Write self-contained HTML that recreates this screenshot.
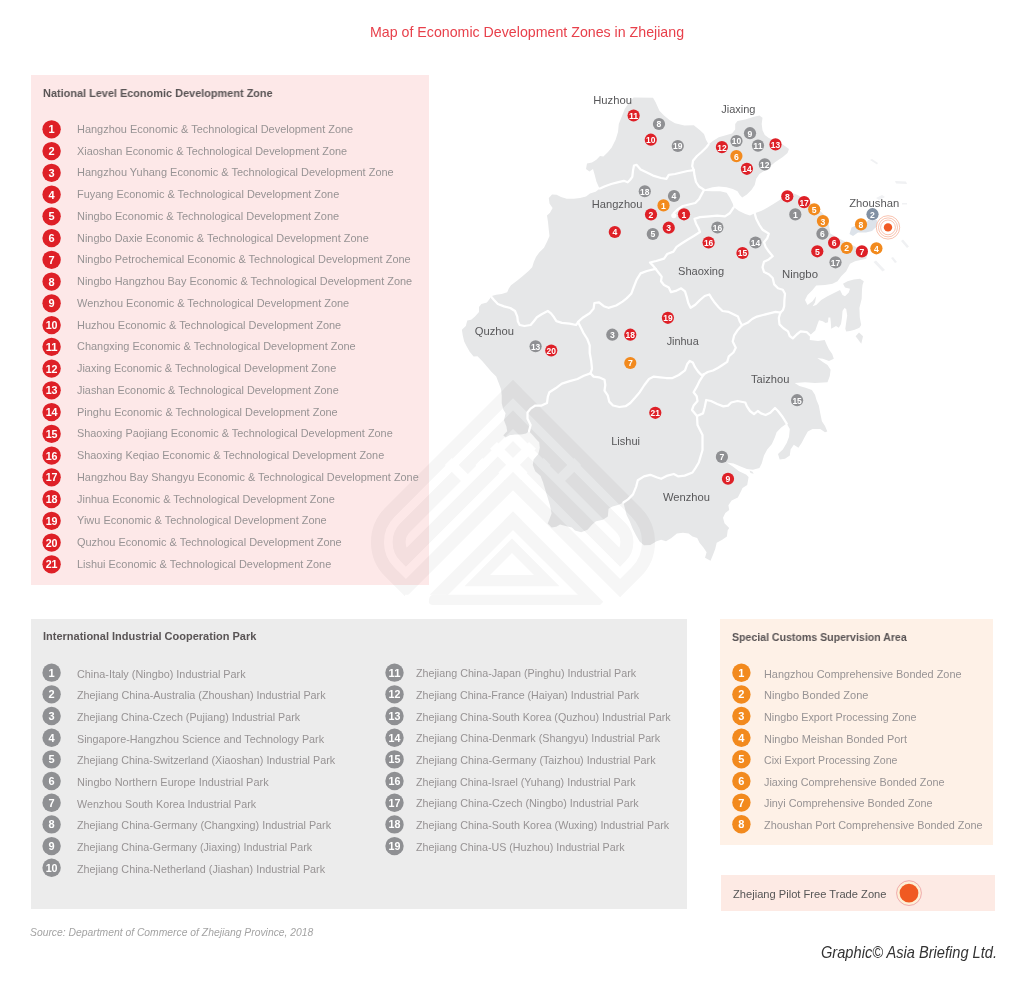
<!DOCTYPE html>
<html><head><meta charset="utf-8"><title>Map of Economic Development Zones in Zhejiang</title>
<style>
html,body{margin:0;padding:0;background:#fff}
body{-webkit-font-smoothing:antialiased;width:1024px;height:987px;position:relative;overflow:hidden;font-family:"Liberation Sans",sans-serif}
.p{position:absolute}
.c{will-change:transform;position:absolute;width:18.4px;height:18.4px;border-radius:50%;color:#fff;font-weight:bold;font-size:11px;line-height:18.4px;text-align:center;letter-spacing:-0.7px;text-indent:-0.7px}
.r{background:#de2027} .g{background:#8f9093} .o{background:#f28a1e}
.t{position:absolute;transform-origin:0 0;font-size:11px;line-height:20px;color:#979394;white-space:nowrap}
.h{will-change:transform;position:absolute;font-size:11px;font-weight:bold;color:#595455;white-space:nowrap;line-height:20px}
#map{position:absolute;left:0;top:0}
</style></head><body>
<div class="p" style="left:30.8px;top:74.7px;width:398px;height:510.8px;background:#fde8e8"></div>
<div class="p" style="left:30.8px;top:618.8px;width:656.7px;height:290.3px;background:#ececec"></div>
<div class="p" style="left:720px;top:619px;width:273px;height:225.7px;background:#fef1e7"></div>
<div class="p" style="left:721px;top:875.4px;width:274px;height:35.5px;background:#fdeae4"></div>
<svg id="map" width="1024" height="987" viewBox="0 0 1024 987" style="position:absolute;left:0;top:0;will-change:transform" font-family="Liberation Sans, sans-serif">

<path d="M633.6,97.5 L653.0,97.8 L655.5,102.0 L659.4,110.8 L664.0,115.5 L669.5,120.0 L675.0,123.3 L684.4,125.6 L693.8,125.3 L700.0,130.3 L704.0,134.0 L706.0,139.7 L708.6,144.4 L712.5,141.2 L718.8,137.3 L726.6,135.0 L732.0,133.4 L735.2,129.5 L735.2,124.0 L737.5,121.0 L745.3,119.4 L753.0,117.0 L759.4,115.5 L762.5,117.8 L761.7,124.0 L762.5,130.3 L764.8,135.0 L768.8,138.0 L775.0,140.5 L782.8,144.4 L789.0,149.0 L787.5,153.0 L782.8,156.9 L775.0,162.3 L770.3,166.2 L764.0,171.0 L759.4,174.0 L756.2,178.8 L754.7,185.0 L751.6,189.7 L746.9,194.4 L742.2,197.5 L739.8,195.0 L737.5,191.2 L732.8,189.0 L726.6,187.3 L718.8,186.6 L712.5,187.3 L706.2,189.0 L704.0,189.7 L704.5,191.0 L712.5,191.2 L720.3,191.2 L726.6,192.8 L729.7,197.5 L732.8,203.8 L733.6,207.0 L739.0,211.0 L745.3,214.0 L750.0,215.6 L754.7,213.3 L761.0,211.0 L767.2,207.8 L773.4,204.0 L779.7,200.0 L784.0,195.5 L789.7,192.0 L797.5,195.0 L807.0,200.6 L816.2,207.0 L824.0,214.7 L828.8,224.0 L830.3,233.4 L838.0,238.0 L847.5,242.8 L857.0,247.5 L866.2,250.0 L867.8,252.0 L866.2,258.8 L855.0,261.2 L850.0,263.8 L846.2,271.2 L841.2,276.2 L837.5,281.2 L832.5,283.8 L825.0,285.0 L816.2,285.6 L812.5,290.0 L807.5,295.0 L805.0,300.0 L807.5,305.0 L812.5,301.2 L816.2,296.2 L815.0,302.5 L812.5,306.2 L816.2,305.0 L821.2,300.0 L827.5,296.2 L835.0,292.5 L840.0,290.0 L842.5,295.0 L845.0,296.2 L848.8,292.5 L850.0,288.8 L845.0,287.5 L843.0,283.8 L847.5,281.2 L853.8,279.4 L860.0,278.8 L863.8,281.2 L862.5,285.0 L862.0,289.4 L861.7,298.8 L859.4,308.0 L859.8,317.5 L861.2,325.0 L859.4,327.8 L854.7,329.7 L850.0,331.0 L846.2,331.6 L845.3,328.8 L846.2,322.2 L847.2,315.6 L846.2,309.0 L844.4,308.0 L842.5,311.0 L842.0,317.5 L841.0,324.0 L838.8,327.8 L836.0,326.0 L831.2,328.8 L830.8,322.2 L830.3,317.5 L828.4,317.5 L828.0,322.2 L825.6,323.0 L822.8,321.2 L819.0,320.3 L817.2,325.0 L815.3,330.6 L810.0,335.3 L809.7,340.0 L818.0,341.0 L824.7,340.0 L826.7,344.7 L829.0,349.4 L832.2,354.0 L833.8,358.8 L829.0,361.0 L822.8,358.8 L817.3,358.0 L822.8,361.9 L827.5,365.0 L830.6,369.7 L829.8,376.0 L827.5,382.2 L815.0,383.0 L805.0,382.3 L794.7,383.0 L799.4,386.0 L805.6,387.7 L811.9,390.0 L815.0,394.7 L816.5,400.0 L818.8,405.6 L820.3,413.4 L821.9,421.2 L825.0,426.0 L827.3,431.4 L825.0,432.2 L820.3,429.0 L812.5,429.0 L807.8,431.4 L804.7,436.9 L801.6,443.0 L798.4,447.8 L793.8,444.7 L790.6,449.4 L789.8,455.6 L785.0,458.8 L779.7,459.5 L778.0,454.0 L782.8,449.4 L786.7,443.0 L789.0,436.9 L789.8,429.0 L786.7,423.6 L781.2,427.5 L776.6,432.2 L775.0,436.9 L771.9,444.0 L767.2,449.4 L764.0,455.6 L761.7,463.4 L759.4,468.0 L753.0,469.7 L746.9,469.0 L740.6,466.6 L733.6,463.4 L726.6,462.5 L732.8,466.6 L739.0,471.2 L746.0,474.4 L748.6,477.0 L747.2,485.0 L742.5,488.0 L741.0,491.2 L737.8,497.5 L731.6,500.6 L728.4,505.3 L729.2,510.0 L725.3,513.0 L723.0,517.8 L724.5,523.3 L729.2,528.0 L727.7,530.3 L726.9,536.6 L722.2,539.7 L716.7,542.8 L715.2,549.0 L712.8,555.3 L710.5,560.8 L705.0,557.7 L706.6,552.2 L703.4,547.5 L699.5,542.8 L697.2,538.0 L692.5,536.6 L688.6,533.4 L683.0,532.7 L676.9,533.4 L671.4,538.0 L666.0,541.2 L661.2,539.7 L656.6,541.2 L650.3,545.0 L644.0,545.3 L639.6,541.5 L636.0,535.3 L632.8,529.0 L629.7,521.2 L626.6,515.0 L625.0,508.8 L623.4,502.5 L618.8,504.8 L612.5,506.4 L608.6,508.8 L607.8,516.6 L603.0,519.7 L596.0,521.2 L592.2,524.4 L587.5,529.8 L581.2,532.2 L575.0,530.6 L571.9,527.5 L565.6,526.0 L560.0,524.4 L556.2,526.7 L551.6,527.5 L547.7,523.6 L549.2,519.7 L551.6,513.4 L550.0,505.6 L547.7,497.8 L545.3,490.0 L543.0,482.2 L540.6,476.0 L535.2,471.2 L532.8,465.0 L533.6,459.5 L538.3,454.0 L539.8,447.8 L539.2,442.2 L536.0,439.0 L532.2,434.4 L529.0,431.2 L526.0,433.6 L521.2,434.4 L515.0,434.4 L509.5,435.2 L505.6,437.5 L503.3,435.2 L507.2,431.2 L506.4,426.6 L504.0,420.3 L505.6,413.3 L503.3,409.4 L501.7,403.0 L501.7,395.3 L501.0,389.0 L498.6,382.8 L496.2,376.6 L491.6,371.9 L486.9,366.4 L482.2,361.0 L477.5,356.2 L473.6,356.4 L469.7,351.7 L466.6,346.2 L464.2,341.6 L462.7,335.3 L461.9,329.8 L465.8,326.0 L467.3,320.5 L471.2,319.7 L475.0,316.6 L479.0,311.9 L479.0,307.0 L481.4,304.0 L486.9,302.5 L490.0,298.6 L490.8,296.2 L496.2,294.7 L501.7,294.0 L507.2,292.3 L508.8,288.4 L511.0,285.3 L517.3,280.6 L522.8,276.0 L528.3,271.2 L532.2,267.3 L533.8,261.9 L536.0,257.0 L539.2,252.5 L544.0,247.8 L547.0,241.7 L549.5,236.0 L548.8,230.0 L548.0,222.0 L547.0,215.6 L550.0,212.8 L552.6,208.0 L549.5,203.4 L548.8,198.0 L552.0,194.5 L556.6,194.8 L561.0,197.0 L566.7,198.8 L573.8,198.8 L580.0,198.0 L586.0,196.4 L590.0,193.5 L595.6,191.7 L600.0,188.6 L598.8,187.0 L596.4,181.6 L594.8,175.3 L593.0,169.0 L589.4,171.4 L586.0,169.0 L587.0,163.6 L592.0,162.5 L596.4,159.7 L600.0,156.0 L603.4,156.6 L606.2,153.8 L608.0,152.0 L611.7,147.5 L615.6,139.7 L618.0,131.9 L618.8,124.0 L621.9,116.2 L625.0,108.4 L630.5,100.6Z" fill="#e6e7e8"/>
<g fill="#e6e7e8"><path d="M859,332.5 L863,336.3 L861.3,343.8 L855.6,336.3Z"/><path d="M749.5,470.5l3,1.2 1.2,2-3.2-.6z"/></g>
<g fill="#f0f1f3"><path d="M849.5,234 L851.5,227.5 L856,225.5 L866,224 L868,220 L873,218.5 L877.5,220.5 L876,227 L872,231 L866,232.5 L858,232.5 L853,236Z" fill="#dde3ea"/><path d="M873.5,262 l2.5,-1.5 9,9.5 -2.5,1.5z"/><path d="M891,258 l2,-1 4,5 -2,1z"/><path d="M901,241 l2,-1.5 6,7 -2,1.5z"/><path d="M895,181 l11,0.5 1,2.5 -11,-0.5z"/><path d="M870,160 l2,-1 6,4 -1,1.5z"/><path d="M876,198 l6,-3 3,2 -6,3z"/><path d="M902,203 l5,0 0,1.5 -5,0z"/></g>
<mask id="wm" maskUnits="userSpaceOnUse" x="340" y="370" width="340" height="250"><g transform="matrix(15.3,15.3,-15.3,15.3,513,380)"><path d="M0.3,0 L0.3,8.350000000000001 A1.95,1.95 0 0 0 2.25,10.3 L3.3,10.3 L3.3,3" fill="none" stroke="#fff" stroke-width="0.6" stroke-linejoin="miter"/><path d="M0,0.3 L8.350000000000001,0.3 A1.95,1.95 0 0 1 10.3,2.25 L10.3,3.3 L3,3.3" fill="none" stroke="#fff" stroke-width="0.6" stroke-linejoin="miter"/><path d="M1.3,1 L1.3,8.350000000000001 A0.95,0.95 0 0 0 2.25,9.3 L2.3,9.3 L2.3,2" fill="none" stroke="#fff" stroke-width="0.6" stroke-linejoin="miter"/><path d="M1,1.3 L8.350000000000001,1.3 A0.95,0.95 0 0 1 9.3,2.25 L9.3,2.3 L2,2.3" fill="none" stroke="#fff" stroke-width="0.6" stroke-linejoin="miter"/><rect x="4.3" y="4.3" width="0.600" height="5.900" fill="#fff"/><rect x="4.3" y="4.3" width="5.900" height="0.600" fill="#fff"/><rect x="1.5" y="2.55" width="2.000" height="0.450" fill="#000"/><rect x="2.55" y="1.5" width="0.450" height="2.000" fill="#000"/><rect x="0.55" y="4.55" width="1.350" height="0.450" fill="#000"/><rect x="4.55" y="0.55" width="0.450" height="1.350" fill="#000"/><rect x="1.55" y="3.55" width="0.450" height="0.450" fill="#000"/><rect x="3.55" y="1.55" width="0.450" height="0.450" fill="#000"/></g><rect x="340" y="605" width="340" height="20" fill="#000"/><path d="M405,594.7 L446,594.7 L436,606.3 L405,606.3Z" fill="#000"/><path d="M512,538.5 L464.5,586.3 L559.5,586.3Z M512,553 L490,575 L534,575Z" fill="#fff" fill-rule="evenodd"/><path d="M433,594.7 L590,594.7 Q600,594.7 596,600 L591,605 L433,605 Q428,605 429,600 Q429.5,595 433,594.7Z" fill="#fff"/></mask><rect x="340" y="370" width="340" height="250" fill="#000" opacity="0.036" mask="url(#wm)"/>
<g fill="none" stroke="#fff" stroke-width="2.25" stroke-linejoin="round" stroke-linecap="round">
<path d="M600.0,188.6 L605.0,186.2 L611.2,184.0 L617.5,182.3 L623.8,180.8 L627.7,182.3 L630.0,180.0 L632.3,176.9 L633.0,170.6 L634.0,165.5 L636.5,164.8 L640.6,169.4 L646.9,172.5 L653.0,175.6 L661.0,178.0 L666.4,178.8 L668.8,174.8 L675.0,174.0 L681.2,172.5 L687.5,171.0 L693.8,170.2"/>
<path d="M708.6,144.4 L706.2,147.5 L701.6,152.0 L697.0,156.0 L693.0,160.8 L692.2,166.2 L693.8,170.2"/>
<path d="M693.8,170.2 L694.5,175.6 L696.0,182.0 L699.0,186.5 L704.0,189.7"/>
<path d="M704.0,190.0 L701.6,194.4 L699.2,199.0 L695.3,203.0 L689.0,204.5 L682.8,206.0 L678.0,209.2 L673.8,213.0"/>
<path d="M733.6,207.5 L729.7,213.3 L725.0,216.4 L717.2,215.6 L709.4,216.4 L700.0,217.2 L694.5,218.8 L696.0,223.4 L698.4,228.0 L700.0,232.0 L693.8,236.0 L687.5,239.8 L681.2,243.8 L676.6,246.9 L673.4,251.6 L667.2,254.0 L664.0,258.6 L656.2,261.0 L650.0,262.5 L653.0,265.6 L655.5,268.8"/>
<path d="M655.5,268.8 L646.9,271.0 L640.6,273.4 L636.7,279.7 L633.6,287.5 L631.2,293.8 L626.6,298.4 L622.5,301.6 L616.2,305.5 L608.4,307.8 L603.8,306.2 L599.0,302.3 L594.4,303.0 L593.6,308.6 L589.7,313.3 L583.4,317.2 L578.0,321.9"/>
<path d="M490.8,296.2 L494.0,300.0 L497.8,304.0 L504.0,306.4 L510.3,308.0 L515.0,311.0 L517.3,316.6 L517.8,321.2 L519.7,325.0 L524.4,326.0 L530.6,325.0 L533.8,321.2 L536.9,317.3 L541.6,314.2 L547.8,311.0 L551.0,313.4 L554.0,317.3 L556.4,321.2 L561.9,322.8 L569.7,323.6 L576.0,325.0 L578.3,322.0"/>
<path d="M578.0,321.9 L580.3,326.6 L583.4,332.8 L587.3,339.0 L589.7,345.3 L589.7,353.0 L591.2,361.0 L592.0,368.8 L590.5,373.4"/>
<path d="M529.0,431.2 L530.6,425.0 L527.5,418.8 L527.5,412.5 L530.6,408.6 L535.3,405.5 L541.6,405.5 L547.0,403.0 L547.8,396.9 L549.4,392.2 L555.6,388.3 L561.9,383.6 L569.7,381.2 L577.5,379.0 L583.8,375.8 L590.5,373.4"/>
<path d="M590.5,373.4 L593.6,376.6 L599.0,377.3 L604.5,379.7 L605.3,385.0 L604.5,390.6 L607.7,395.3 L609.2,401.6 L613.0,405.5 L619.4,407.0 L625.6,406.2 L630.3,403.0 L635.0,397.7 L639.7,392.2 L644.4,385.0 L649.0,379.0 L653.8,376.6 L660.0,377.3 L666.2,378.0 L672.5,378.0 L678.8,375.0 L685.0,370.3 L687.3,364.0 L689.7,361.0 L692.8,362.5 L695.0,367.2 L698.3,371.9 L701.4,375.0 L703.8,374.4"/>
<path d="M655.5,268.8 L658.6,272.7 L661.7,276.6 L661.0,281.2 L664.0,285.0 L668.8,287.5 L671.0,292.2 L676.6,290.6 L681.2,288.3 L685.0,291.4 L686.7,296.9 L688.3,303.0 L690.6,307.8 L695.3,304.7 L700.0,300.0 L704.7,296.0 L709.4,294.5 L711.7,298.4 L714.0,301.7 L718.6,307.2 L722.5,311.0 L728.8,311.9 L733.4,314.2 L738.0,316.6 L739.7,321.2 L742.0,325.2"/>
<path d="M754.7,213.3 L756.2,218.8 L759.4,225.0 L762.5,229.7 L768.8,233.6 L767.2,238.3 L764.0,242.2 L765.6,246.9 L768.8,251.6 L772.7,256.2 L768.8,259.4 L764.0,261.7 L762.5,267.2 L764.0,271.9 L768.8,274.2 L772.7,278.0 L774.2,284.4 L778.0,288.3 L782.8,289.8 L785.0,293.8 L784.4,300.0 L784.2,306.2 L783.0,310.0 L780.3,312.7"/>
<path d="M742.0,325.2 L747.5,322.8 L752.2,319.0 L756.9,316.6 L763.0,315.0 L769.4,313.4 L775.6,311.9 L780.3,312.7"/>
<path d="M780.3,312.7 L778.8,318.0 L779.5,324.4 L783.4,328.3 L788.0,331.4 L789.7,336.0 L792.8,338.4 L796.7,334.5 L800.6,331.4 L806.9,332.2 L810.0,335.3"/>
<path d="M742.0,325.2 L737.3,330.6 L734.2,335.3 L732.7,341.6 L735.8,347.8 L733.4,352.5 L728.8,356.4 L727.2,361.9 L722.5,365.0 L717.8,368.0 L713.0,370.5 L707.7,372.0 L703.8,374.4"/>
<path d="M703.8,374.4 L699.8,380.6 L696.7,386.9 L693.6,392.3 L696.7,396.2 L697.5,401.0 L693.6,405.6 L692.0,410.0 L697.0,416.0"/>
<path d="M697.0,416.0 L703.0,413.4 L704.7,407.2 L706.2,400.0 L711.0,401.0 L717.2,404.0 L723.4,406.4 L728.0,405.6 L731.2,402.5 L737.5,401.0 L745.3,402.5 L746.9,406.4 L750.0,411.0 L754.0,414.2 L757.8,411.0 L761.0,413.4 L765.6,415.0 L770.3,412.7 L775.0,408.0 L778.0,411.0 L782.8,417.3 L786.7,423.6"/>
<path d="M697.0,416.0 L697.5,425.0 L702.5,435.0 L702.5,450.0 L698.8,462.5 L695.6,467.8 L692.5,472.5 L684.7,475.6 L678.4,476.4 L673.8,474.0 L667.5,475.6 L661.2,478.8 L656.6,477.2 L650.3,474.8 L644.0,476.4 L637.8,480.3 L636.2,486.6 L633.0,494.4 L628.0,499.4 L623.4,502.5"/>
</g>
<circle cx="673.8" cy="215.6" r="2.6" fill="#fff"/>
<g fill="#58585a" font-size="11.6px">
<text x="593.2" y="103.8" textLength="38.8" lengthAdjust="spacingAndGlyphs">Huzhou</text>
<text x="721.2" y="113.3" textLength="34.3" lengthAdjust="spacingAndGlyphs">Jiaxing</text>
<text x="591.7" y="208" textLength="50.8" lengthAdjust="spacingAndGlyphs">Hangzhou</text>
<text x="849.2" y="206.8" textLength="50" lengthAdjust="spacingAndGlyphs">Zhoushan</text>
<text x="678" y="274.5" textLength="46.2" lengthAdjust="spacingAndGlyphs">Shaoxing</text>
<text x="782" y="277.7" textLength="36" lengthAdjust="spacingAndGlyphs">Ningbo</text>
<text x="474.7" y="334.5" textLength="39.3" lengthAdjust="spacingAndGlyphs">Quzhou</text>
<text x="666.7" y="345.3" textLength="32" lengthAdjust="spacingAndGlyphs">Jinhua</text>
<text x="751" y="383" textLength="38.4" lengthAdjust="spacingAndGlyphs">Taizhou</text>
<text x="611.2" y="445" textLength="28.8" lengthAdjust="spacingAndGlyphs">Lishui</text>
<text x="663" y="501.4" textLength="47" lengthAdjust="spacingAndGlyphs">Wenzhou</text>
</g>
<g fill="none" stroke="#f2906c" stroke-width="0.55"><circle cx="888" cy="227.4" r="7.4"/><circle cx="888" cy="227.4" r="9.5"/><circle cx="888" cy="227.4" r="11.7"/></g><circle cx="888" cy="227.4" r="4.2" fill="#f15a24"/>
<g font-size="9.7px" font-weight="bold" fill="#fff">
<circle cx="659" cy="124" r="6.1" fill="#8f9093"/><text x="656.60" y="127.40" textLength="4.8" lengthAdjust="spacingAndGlyphs">8</text>
<circle cx="677.8" cy="146" r="6.1" fill="#8f9093"/><text x="673.10" y="149.40" textLength="9.4" lengthAdjust="spacingAndGlyphs">19</text>
<circle cx="736.5" cy="141" r="6.1" fill="#8f9093"/><text x="731.80" y="144.40" textLength="9.4" lengthAdjust="spacingAndGlyphs">10</text>
<circle cx="750" cy="133.2" r="6.1" fill="#8f9093"/><text x="747.60" y="136.60" textLength="4.8" lengthAdjust="spacingAndGlyphs">9</text>
<circle cx="758" cy="145.6" r="6.1" fill="#8f9093"/><text x="753.30" y="149.00" textLength="9.4" lengthAdjust="spacingAndGlyphs">11</text>
<circle cx="764.8" cy="164.4" r="6.1" fill="#8f9093"/><text x="760.10" y="167.80" textLength="9.4" lengthAdjust="spacingAndGlyphs">12</text>
<circle cx="644.8" cy="191.25" r="6.1" fill="#8f9093"/><text x="640.10" y="194.65" textLength="9.4" lengthAdjust="spacingAndGlyphs">18</text>
<circle cx="674" cy="196" r="6.1" fill="#8f9093"/><text x="671.60" y="199.40" textLength="4.8" lengthAdjust="spacingAndGlyphs">4</text>
<circle cx="652.8" cy="234" r="6.1" fill="#8f9093"/><text x="650.40" y="237.40" textLength="4.8" lengthAdjust="spacingAndGlyphs">5</text>
<circle cx="717.4" cy="227.5" r="6.1" fill="#8f9093"/><text x="712.70" y="230.90" textLength="9.4" lengthAdjust="spacingAndGlyphs">16</text>
<circle cx="755.5" cy="242.5" r="6.1" fill="#8f9093"/><text x="750.80" y="245.90" textLength="9.4" lengthAdjust="spacingAndGlyphs">14</text>
<circle cx="795.3" cy="214.4" r="6.1" fill="#8f9093"/><text x="792.90" y="217.80" textLength="4.8" lengthAdjust="spacingAndGlyphs">1</text>
<circle cx="822.4" cy="233.7" r="6.1" fill="#8f9093"/><text x="820.00" y="237.10" textLength="4.8" lengthAdjust="spacingAndGlyphs">6</text>
<circle cx="835.5" cy="262.3" r="6.1" fill="#8f9093"/><text x="830.80" y="265.70" textLength="9.4" lengthAdjust="spacingAndGlyphs">17</text>
<circle cx="535.6" cy="346.25" r="6.1" fill="#8f9093"/><text x="530.90" y="349.65" textLength="9.4" lengthAdjust="spacingAndGlyphs">13</text>
<circle cx="612.3" cy="334.7" r="6.1" fill="#8f9093"/><text x="609.90" y="338.10" textLength="4.8" lengthAdjust="spacingAndGlyphs">3</text>
<circle cx="797.1" cy="400.2" r="6.1" fill="#8f9093"/><text x="792.40" y="403.60" textLength="9.4" lengthAdjust="spacingAndGlyphs">15</text>
<circle cx="721.9" cy="456.9" r="6.1" fill="#8f9093"/><text x="719.50" y="460.30" textLength="4.8" lengthAdjust="spacingAndGlyphs">7</text>
<circle cx="872.5" cy="214.2" r="6.1" fill="#8291a3"/><text x="870.1" y="217.6" textLength="4.8" lengthAdjust="spacingAndGlyphs">2</text>
<circle cx="736.4" cy="156.1" r="6.1" fill="#f28a1e"/><text x="734.00" y="159.50" textLength="4.8" lengthAdjust="spacingAndGlyphs">6</text>
<circle cx="663.5" cy="205.4" r="6.1" fill="#f28a1e"/><text x="661.10" y="208.80" textLength="4.8" lengthAdjust="spacingAndGlyphs">1</text>
<circle cx="814.2" cy="209.3" r="6.1" fill="#f28a1e"/><text x="811.80" y="212.70" textLength="4.8" lengthAdjust="spacingAndGlyphs">5</text>
<circle cx="822.9" cy="221.1" r="6.1" fill="#f28a1e"/><text x="820.50" y="224.50" textLength="4.8" lengthAdjust="spacingAndGlyphs">3</text>
<circle cx="846.7" cy="247.9" r="6.1" fill="#f28a1e"/><text x="844.30" y="251.30" textLength="4.8" lengthAdjust="spacingAndGlyphs">2</text>
<circle cx="876.4" cy="248.3" r="6.1" fill="#f28a1e"/><text x="874.00" y="251.70" textLength="4.8" lengthAdjust="spacingAndGlyphs">4</text>
<circle cx="861" cy="224.4" r="6.1" fill="#f28a1e"/><text x="858.60" y="227.80" textLength="4.8" lengthAdjust="spacingAndGlyphs">8</text>
<circle cx="630.3" cy="363" r="6.1" fill="#f28a1e"/><text x="627.90" y="366.40" textLength="4.8" lengthAdjust="spacingAndGlyphs">7</text>
<circle cx="633.6" cy="115.5" r="6.1" fill="#de2027"/><text x="628.90" y="118.90" textLength="9.4" lengthAdjust="spacingAndGlyphs">11</text>
<circle cx="650.8" cy="139.7" r="6.1" fill="#de2027"/><text x="646.10" y="143.10" textLength="9.4" lengthAdjust="spacingAndGlyphs">10</text>
<circle cx="721.9" cy="147.1" r="6.1" fill="#de2027"/><text x="717.20" y="150.50" textLength="9.4" lengthAdjust="spacingAndGlyphs">12</text>
<circle cx="775.5" cy="144.4" r="6.1" fill="#de2027"/><text x="770.80" y="147.80" textLength="9.4" lengthAdjust="spacingAndGlyphs">13</text>
<circle cx="746.9" cy="168.8" r="6.1" fill="#de2027"/><text x="742.20" y="172.20" textLength="9.4" lengthAdjust="spacingAndGlyphs">14</text>
<circle cx="684" cy="214.3" r="6.1" fill="#de2027"/><text x="681.60" y="217.70" textLength="4.8" lengthAdjust="spacingAndGlyphs">1</text>
<circle cx="651" cy="214.5" r="6.1" fill="#de2027"/><text x="648.60" y="217.90" textLength="4.8" lengthAdjust="spacingAndGlyphs">2</text>
<circle cx="668.75" cy="227.7" r="6.1" fill="#de2027"/><text x="666.35" y="231.10" textLength="4.8" lengthAdjust="spacingAndGlyphs">3</text>
<circle cx="614.8" cy="232" r="6.1" fill="#de2027"/><text x="612.40" y="235.40" textLength="4.8" lengthAdjust="spacingAndGlyphs">4</text>
<circle cx="708.6" cy="242.5" r="6.1" fill="#de2027"/><text x="703.90" y="245.90" textLength="9.4" lengthAdjust="spacingAndGlyphs">16</text>
<circle cx="742.5" cy="253" r="6.1" fill="#de2027"/><text x="737.80" y="256.40" textLength="9.4" lengthAdjust="spacingAndGlyphs">15</text>
<circle cx="787.3" cy="196.3" r="6.1" fill="#de2027"/><text x="784.90" y="199.70" textLength="4.8" lengthAdjust="spacingAndGlyphs">8</text>
<circle cx="804.1" cy="202.1" r="6.1" fill="#de2027"/><text x="799.40" y="205.50" textLength="9.4" lengthAdjust="spacingAndGlyphs">17</text>
<circle cx="834.1" cy="242.7" r="6.1" fill="#de2027"/><text x="831.70" y="246.10" textLength="4.8" lengthAdjust="spacingAndGlyphs">6</text>
<circle cx="817.3" cy="251.3" r="6.1" fill="#de2027"/><text x="814.90" y="254.70" textLength="4.8" lengthAdjust="spacingAndGlyphs">5</text>
<circle cx="861.9" cy="251.4" r="6.1" fill="#de2027"/><text x="859.50" y="254.80" textLength="4.8" lengthAdjust="spacingAndGlyphs">7</text>
<circle cx="667.9" cy="317.8" r="6.1" fill="#de2027"/><text x="663.20" y="321.20" textLength="9.4" lengthAdjust="spacingAndGlyphs">19</text>
<circle cx="630.3" cy="334.7" r="6.1" fill="#de2027"/><text x="625.60" y="338.10" textLength="9.4" lengthAdjust="spacingAndGlyphs">18</text>
<circle cx="551.25" cy="350.5" r="6.1" fill="#de2027"/><text x="546.55" y="353.90" textLength="9.4" lengthAdjust="spacingAndGlyphs">20</text>
<circle cx="655.3" cy="412.8" r="6.1" fill="#de2027"/><text x="650.60" y="416.20" textLength="9.4" lengthAdjust="spacingAndGlyphs">21</text>
<circle cx="728" cy="478.75" r="6.1" fill="#de2027"/><text x="725.60" y="482.15" textLength="4.8" lengthAdjust="spacingAndGlyphs">9</text>
</g>
</svg>
<div class="p" id="title" style="left:369.8px;top:22.4px;font-size:15px;line-height:20px;color:#e8404b;white-space:nowrap;transform-origin:0 0;transform:scaleX(0.9464)">Map of Economic Development Zones in Zhejiang</div>
<div class="h" style="left:42.8px;top:83.2px;transform-origin:0 0;transform:scaleX(0.9915)">National Level Economic Development Zone</div>
<div class="h" style="left:42.8px;top:626.3px;transform-origin:0 0;transform:scaleX(0.9999)">International Industrial Cooperation Park</div>
<div class="h" style="left:732.3px;top:626.5px;transform-origin:0 0;transform:scaleX(0.9611)">Special Customs Supervision Area</div>
<div class="h" style="left:732.5px;top:883.7px;font-weight:normal;color:#555;transform-origin:0 0;transform:scaleX(1.012)">Zhejiang Pilot Free Trade Zone</div>
<svg class="p" style="left:893px;top:877px" width="32" height="32"><circle cx="16" cy="16.1" r="12.4" fill="#fdefd6" stroke="#eda2a6" stroke-width="0.9"/><circle cx="16" cy="16.1" r="9.4" fill="#f05a22"/></svg>
<div class="t" style="left:77.30px;top:118.75px;transform:scaleX(0.9957)">Hangzhou Economic &amp; Technological Development Zone</div>
<div class="t" style="left:77.30px;top:140.50px;transform:scaleX(0.9892)">Xiaoshan Economic &amp; Technological Development Zone</div>
<div class="t" style="left:77.30px;top:162.25px;transform:scaleX(0.9972)">Hangzhou Yuhang Economic &amp; Technological Development Zone</div>
<div class="t" style="left:77.30px;top:184.00px;transform:scaleX(0.9934)">Fuyang Economic &amp; Technological Development Zone</div>
<div class="t" style="left:77.30px;top:205.75px;transform:scaleX(1.0003)">Ningbo Economic &amp; Technological Development Zone</div>
<div class="t" style="left:77.30px;top:227.50px;transform:scaleX(0.9946)">Ningbo Daxie Economic &amp; Technological Development Zone</div>
<div class="t" style="left:77.30px;top:249.25px;transform:scaleX(0.9965)">Ningbo Petrochemical Economic &amp; Technological Development Zone</div>
<div class="t" style="left:77.30px;top:271.00px;transform:scaleX(0.9936)">Ningbo Hangzhou Bay Economic &amp; Technological Development Zone</div>
<div class="t" style="left:77.30px;top:292.75px;transform:scaleX(0.9951)">Wenzhou Economic &amp; Technological Development Zone</div>
<div class="t" style="left:77.30px;top:314.50px;transform:scaleX(0.9963)">Huzhou Economic &amp; Technological Development Zone</div>
<div class="t" style="left:77.30px;top:336.25px;transform:scaleX(0.9959)">Changxing Economic &amp; Technological Development Zone</div>
<div class="t" style="left:77.30px;top:358.00px;transform:scaleX(0.9912)">Jiaxing Economic &amp; Technological Development Zone</div>
<div class="t" style="left:77.30px;top:379.75px;transform:scaleX(0.9869)">Jiashan Economic &amp; Technological Development Zone</div>
<div class="t" style="left:77.30px;top:401.50px;transform:scaleX(0.9969)">Pinghu Economic &amp; Technological Development Zone</div>
<div class="t" style="left:77.30px;top:423.25px;transform:scaleX(0.9897)">Shaoxing Paojiang Economic &amp; Technological Development Zone</div>
<div class="t" style="left:77.30px;top:445.00px;transform:scaleX(0.9896)">Shaoxing Keqiao Economic &amp; Technological Development Zone</div>
<div class="t" style="left:77.30px;top:466.75px;transform:scaleX(0.9878)">Hangzhou Bay Shangyu Economic &amp; Technological Development Zone</div>
<div class="t" style="left:77.30px;top:488.50px;transform:scaleX(0.9924)">Jinhua Economic &amp; Technological Development Zone</div>
<div class="t" style="left:77.30px;top:510.25px;transform:scaleX(0.9960)">Yiwu Economic &amp; Technological Development Zone</div>
<div class="t" style="left:77.30px;top:532.00px;transform:scaleX(0.9959)">Quzhou Economic &amp; Technological Development Zone</div>
<div class="t" style="left:77.30px;top:553.75px;transform:scaleX(0.9930)">Lishui Economic &amp; Technological Development Zone</div>
<div class="t" style="left:76.90px;top:663.65px;transform:scaleX(0.9849)">China-Italy (Ningbo) Industrial Park</div>
<div class="t" style="left:76.90px;top:685.33px;transform:scaleX(0.9821)">Zhejiang China-Australia (Zhoushan) Industrial Park</div>
<div class="t" style="left:76.90px;top:707.01px;transform:scaleX(0.9730)">Zhejiang China-Czech (Pujiang) Industrial Park</div>
<div class="t" style="left:76.90px;top:728.69px;transform:scaleX(0.9815)">Singapore-Hangzhou Science and Technology Park</div>
<div class="t" style="left:76.90px;top:750.37px;transform:scaleX(0.9771)">Zhejiang China-Switzerland (Xiaoshan) Industrial Park</div>
<div class="t" style="left:76.90px;top:772.05px;transform:scaleX(0.9948)">Ningbo Northern Europe Industrial Park</div>
<div class="t" style="left:76.90px;top:793.73px;transform:scaleX(0.9741)">Wenzhou South Korea Industrial Park</div>
<div class="t" style="left:76.90px;top:815.41px;transform:scaleX(0.9802)">Zhejiang China-Germany (Changxing) Industrial Park</div>
<div class="t" style="left:76.90px;top:837.09px;transform:scaleX(0.9760)">Zhejiang China-Germany (Jiaxing) Industrial Park</div>
<div class="t" style="left:76.90px;top:858.77px;transform:scaleX(0.9801)">Zhejiang China-Netherland (Jiashan) Industrial Park</div>
<div class="t" style="left:416.40px;top:663.35px;transform:scaleX(0.9755)">Zhejiang China-Japan (Pinghu) Industrial Park</div>
<div class="t" style="left:416.40px;top:685.03px;transform:scaleX(0.9705)">Zhejiang China-France (Haiyan) Industrial Park</div>
<div class="t" style="left:416.40px;top:706.71px;transform:scaleX(0.9751)">Zhejiang China-South Korea (Quzhou) Industrial Park</div>
<div class="t" style="left:416.40px;top:728.39px;transform:scaleX(0.9785)">Zhejiang China-Denmark (Shangyu) Industrial Park</div>
<div class="t" style="left:416.40px;top:750.07px;transform:scaleX(0.9797)">Zhejiang China-Germany (Taizhou) Industrial Park</div>
<div class="t" style="left:416.40px;top:771.75px;transform:scaleX(0.9733)">Zhejiang China-Israel (Yuhang) Industrial Park</div>
<div class="t" style="left:416.40px;top:793.43px;transform:scaleX(0.9787)">Zhejiang China-Czech (Ningbo) Industrial Park</div>
<div class="t" style="left:416.40px;top:815.11px;transform:scaleX(0.9770)">Zhejiang China-South Korea (Wuxing) Industrial Park</div>
<div class="t" style="left:416.40px;top:836.79px;transform:scaleX(0.9720)">Zhejiang China-US (Huzhou) Industrial Park</div>
<div class="t" style="left:763.50px;top:663.70px;transform:scaleX(0.9907)">Hangzhou Comprehensive Bonded Zone</div>
<div class="t" style="left:763.50px;top:685.33px;transform:scaleX(1.0051)">Ningbo Bonded Zone</div>
<div class="t" style="left:763.50px;top:706.96px;transform:scaleX(0.9819)">Ningbo Export Processing Zone</div>
<div class="t" style="left:763.50px;top:728.59px;transform:scaleX(0.9950)">Ningbo Meishan Bonded Port</div>
<div class="t" style="left:763.50px;top:750.22px;transform:scaleX(0.9619)">Cixi Export Processing Zone</div>
<div class="t" style="left:763.50px;top:771.85px;transform:scaleX(0.9839)">Jiaxing Comprehensive Bonded Zone</div>
<div class="t" style="left:763.50px;top:793.48px;transform:scaleX(0.9841)">Jinyi Comprehensive Bonded Zone</div>
<div class="t" style="left:763.50px;top:815.11px;transform:scaleX(0.9871)">Zhoushan Port Comprehensive Bonded Zone</div>

<svg width="1024" height="987" style="position:absolute;left:0;top:0;will-change:transform" font-family="Liberation Sans, sans-serif" font-size="11px" font-weight="bold" fill="#fff"><circle cx="51.60" cy="129.35" r="9.2" fill="#de2027"/><text x="48.55" y="133.30">1</text><circle cx="51.60" cy="151.10" r="9.2" fill="#de2027"/><text x="48.55" y="155.05">2</text><circle cx="51.60" cy="172.85" r="9.2" fill="#de2027"/><text x="48.55" y="176.80">3</text><circle cx="51.60" cy="194.60" r="9.2" fill="#de2027"/><text x="48.55" y="198.55">4</text><circle cx="51.60" cy="216.35" r="9.2" fill="#de2027"/><text x="48.55" y="220.30">5</text><circle cx="51.60" cy="238.10" r="9.2" fill="#de2027"/><text x="48.55" y="242.05">6</text><circle cx="51.60" cy="259.85" r="9.2" fill="#de2027"/><text x="48.55" y="263.80">7</text><circle cx="51.60" cy="281.60" r="9.2" fill="#de2027"/><text x="48.55" y="285.55">8</text><circle cx="51.60" cy="303.35" r="9.2" fill="#de2027"/><text x="48.55" y="307.30">9</text><circle cx="51.60" cy="325.10" r="9.2" fill="#de2027"/><text x="45.65" y="329.05" textLength="11.9" lengthAdjust="spacingAndGlyphs">10</text><circle cx="51.60" cy="346.85" r="9.2" fill="#de2027"/><text x="45.65" y="350.80" textLength="11.9" lengthAdjust="spacingAndGlyphs">11</text><circle cx="51.60" cy="368.60" r="9.2" fill="#de2027"/><text x="45.65" y="372.55" textLength="11.9" lengthAdjust="spacingAndGlyphs">12</text><circle cx="51.60" cy="390.35" r="9.2" fill="#de2027"/><text x="45.65" y="394.30" textLength="11.9" lengthAdjust="spacingAndGlyphs">13</text><circle cx="51.60" cy="412.10" r="9.2" fill="#de2027"/><text x="45.65" y="416.05" textLength="11.9" lengthAdjust="spacingAndGlyphs">14</text><circle cx="51.60" cy="433.85" r="9.2" fill="#de2027"/><text x="45.65" y="437.80" textLength="11.9" lengthAdjust="spacingAndGlyphs">15</text><circle cx="51.60" cy="455.60" r="9.2" fill="#de2027"/><text x="45.65" y="459.55" textLength="11.9" lengthAdjust="spacingAndGlyphs">16</text><circle cx="51.60" cy="477.35" r="9.2" fill="#de2027"/><text x="45.65" y="481.30" textLength="11.9" lengthAdjust="spacingAndGlyphs">17</text><circle cx="51.60" cy="499.10" r="9.2" fill="#de2027"/><text x="45.65" y="503.05" textLength="11.9" lengthAdjust="spacingAndGlyphs">18</text><circle cx="51.60" cy="520.85" r="9.2" fill="#de2027"/><text x="45.65" y="524.80" textLength="11.9" lengthAdjust="spacingAndGlyphs">19</text><circle cx="51.60" cy="542.60" r="9.2" fill="#de2027"/><text x="45.65" y="546.55" textLength="11.9" lengthAdjust="spacingAndGlyphs">20</text><circle cx="51.60" cy="564.35" r="9.2" fill="#de2027"/><text x="45.65" y="568.30" textLength="11.9" lengthAdjust="spacingAndGlyphs">21</text><circle cx="51.60" cy="672.65" r="9.2" fill="#8f9093"/><text x="48.55" y="676.60">1</text><circle cx="51.60" cy="694.33" r="9.2" fill="#8f9093"/><text x="48.55" y="698.28">2</text><circle cx="51.60" cy="716.01" r="9.2" fill="#8f9093"/><text x="48.55" y="719.96">3</text><circle cx="51.60" cy="737.69" r="9.2" fill="#8f9093"/><text x="48.55" y="741.64">4</text><circle cx="51.60" cy="759.37" r="9.2" fill="#8f9093"/><text x="48.55" y="763.32">5</text><circle cx="51.60" cy="781.05" r="9.2" fill="#8f9093"/><text x="48.55" y="785.00">6</text><circle cx="51.60" cy="802.73" r="9.2" fill="#8f9093"/><text x="48.55" y="806.68">7</text><circle cx="51.60" cy="824.41" r="9.2" fill="#8f9093"/><text x="48.55" y="828.36">8</text><circle cx="51.60" cy="846.09" r="9.2" fill="#8f9093"/><text x="48.55" y="850.04">9</text><circle cx="51.60" cy="867.77" r="9.2" fill="#8f9093"/><text x="45.65" y="871.72" textLength="11.9" lengthAdjust="spacingAndGlyphs">10</text><circle cx="394.50" cy="672.65" r="9.2" fill="#8f9093"/><text x="388.55" y="676.60" textLength="11.9" lengthAdjust="spacingAndGlyphs">11</text><circle cx="394.50" cy="694.33" r="9.2" fill="#8f9093"/><text x="388.55" y="698.28" textLength="11.9" lengthAdjust="spacingAndGlyphs">12</text><circle cx="394.50" cy="716.01" r="9.2" fill="#8f9093"/><text x="388.55" y="719.96" textLength="11.9" lengthAdjust="spacingAndGlyphs">13</text><circle cx="394.50" cy="737.69" r="9.2" fill="#8f9093"/><text x="388.55" y="741.64" textLength="11.9" lengthAdjust="spacingAndGlyphs">14</text><circle cx="394.50" cy="759.37" r="9.2" fill="#8f9093"/><text x="388.55" y="763.32" textLength="11.9" lengthAdjust="spacingAndGlyphs">15</text><circle cx="394.50" cy="781.05" r="9.2" fill="#8f9093"/><text x="388.55" y="785.00" textLength="11.9" lengthAdjust="spacingAndGlyphs">16</text><circle cx="394.50" cy="802.73" r="9.2" fill="#8f9093"/><text x="388.55" y="806.68" textLength="11.9" lengthAdjust="spacingAndGlyphs">17</text><circle cx="394.50" cy="824.41" r="9.2" fill="#8f9093"/><text x="388.55" y="828.36" textLength="11.9" lengthAdjust="spacingAndGlyphs">18</text><circle cx="394.50" cy="846.09" r="9.2" fill="#8f9093"/><text x="388.55" y="850.04" textLength="11.9" lengthAdjust="spacingAndGlyphs">19</text><circle cx="741.40" cy="672.80" r="9.2" fill="#f28a1e"/><text x="738.35" y="676.75">1</text><circle cx="741.40" cy="694.43" r="9.2" fill="#f28a1e"/><text x="738.35" y="698.38">2</text><circle cx="741.40" cy="716.06" r="9.2" fill="#f28a1e"/><text x="738.35" y="720.01">3</text><circle cx="741.40" cy="737.69" r="9.2" fill="#f28a1e"/><text x="738.35" y="741.64">4</text><circle cx="741.40" cy="759.32" r="9.2" fill="#f28a1e"/><text x="738.35" y="763.27">5</text><circle cx="741.40" cy="780.95" r="9.2" fill="#f28a1e"/><text x="738.35" y="784.90">6</text><circle cx="741.40" cy="802.58" r="9.2" fill="#f28a1e"/><text x="738.35" y="806.53">7</text><circle cx="741.40" cy="824.21" r="9.2" fill="#f28a1e"/><text x="738.35" y="828.16">8</text></svg>
<div class="p" style="left:30px;top:922px;font-size:11px;line-height:20px;font-style:italic;color:#a3a3a3;white-space:nowrap;transform-origin:0 0;transform:scaleX(0.94)">Source: Department of Commerce of Zhejiang Province, 2018</div>
<div class="p" style="left:820.5px;top:941px;font-size:17px;line-height:24px;font-style:italic;color:#333;white-space:nowrap;transform-origin:0 0;transform:scaleX(0.86)">Graphic© Asia Briefing Ltd.</div>
</body></html>
